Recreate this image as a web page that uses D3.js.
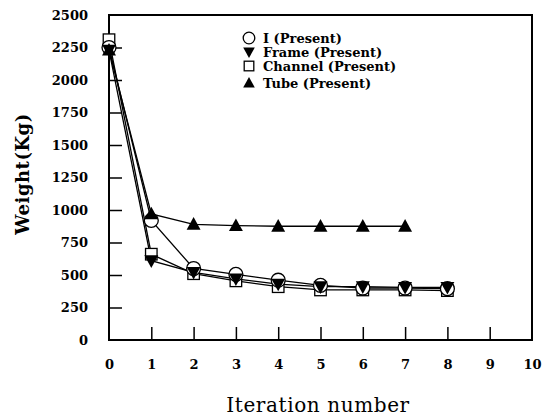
<!DOCTYPE html>
<html>
<head>
<meta charset="utf-8">
<script src="https://cdn.jsdelivr.net/npm/d3@7"></script>
<style>
  body { margin: 0; background: #fff; }
  text { font-family: "DejaVu Serif", "Liberation Serif", serif; fill: #000; }
</style>
</head>
<body>
<svg id="chart" width="542" height="416"></svg>
<script>
// iterations and weights
const iterations = [0, 1, 2, 3, 4, 5, 6, 7, 8];
const iWeight = [2250, 920, 550, 505, 460, 420, 400, 400, 395];
const frameWeight = [2230, 610, 520, 470, 430, 410, 410, 405, 405];
const channelWeight = [2310, 660, 510, 455, 410, 385, 385, 385, 380];
const tubeWeight = [2230, 970, 890, 880, 875, 875, 875, 875];

const xTicks = [0, 1, 2, 3, 4, 5, 6, 7, 8, 9, 10];
const yTicks = [0, 250, 500, 750, 1000, 1250, 1500, 1750, 2000, 2250, 2500];

const series = [
  { name: "I (Present)", values: iWeight, symbol: "circle" },
  { name: "Frame (Present)", values: frameWeight, symbol: "down" },
  { name: "Channel (Present)", values: channelWeight, symbol: "square" },
  { name: "Tube (Present)", values: tubeWeight, symbol: "up" }
];

const svg = d3.select("#chart");

const x = d3.scaleLinear().domain([0, 10]).range([109, 532]);
const y = d3.scaleLinear().domain([0, 2500]).range([340, 15]);

// frame box
svg.append("rect")
  .attr("x", x(0)).attr("y", y(2500))
  .attr("width", x(10) - x(0)).attr("height", y(0) - y(2500))
  .attr("fill", "none").attr("stroke", "#000").attr("stroke-width", 2);

// inward ticks
const xAxis = svg.append("g")
  .attr("transform", `translate(0, ${y(0)})`)
  .call(d3.axisBottom(x).tickValues(xTicks).tickSize(-13).tickPadding(20).tickFormat(d3.format("d")));
xAxis.select(".domain").remove();
xAxis.selectAll("line").attr("stroke-width", 1.5).filter(d => d === 0 || d === 10).remove();
xAxis.selectAll("text").attr("font-size", 13).attr("font-weight", "bold");

const yAxis = svg.append("g")
  .attr("transform", `translate(${x(0)}, 0)`)
  .call(d3.axisLeft(y).tickValues(yTicks).tickSize(-13).tickPadding(21).tickFormat(d3.format("d")));
yAxis.select(".domain").remove();
yAxis.selectAll("line").attr("stroke-width", 1.5).filter(d => d === 0 || d === 2500).remove();
yAxis.selectAll("text").attr("font-size", 13).attr("font-weight", "bold");

// axis titles
svg.append("text")
  .attr("x", 318).attr("y", 412)
  .attr("text-anchor", "middle")
  .attr("font-size", 20)
  .attr("letter-spacing", 0.6)
  .text("Iteration number");

svg.append("text")
  .attr("transform", "translate(29, 174) rotate(-90)")
  .attr("text-anchor", "middle")
  .attr("font-size", 18)
  .attr("font-weight", "bold")
  .attr("letter-spacing", 0.5)
  .text("Weight(Kg)");

const line = d3.line()
  .x((d, i) => x(iterations[i]))
  .y(d => y(d));

const lines = svg.append("g");
lines.selectAll("path")
  .data(series)
  .join("path")
  .attr("d", d => line(d.values))
  .attr("fill", "none")
  .attr("stroke", "#000")
  .attr("stroke-width", 1.3);

function drawSymbol(g, kind, cx, cy, s) {
  if (kind === "circle") {
    g.append("circle").attr("cx", cx).attr("cy", cy).attr("r", s * 0.58)
      .attr("fill", "#fff").attr("stroke", "#000").attr("stroke-width", 1.3);
  } else if (kind === "square") {
    g.append("rect").attr("x", cx - s * 0.48).attr("y", cy - s * 0.48)
      .attr("width", s * 0.96).attr("height", s * 0.96)
      .attr("fill", "#fff").attr("stroke", "#000").attr("stroke-width", 1.3);
  } else if (kind === "down") {
    g.append("path")
      .attr("d", `M${cx - s * 0.58},${cy - s * 0.45}L${cx + s * 0.58},${cy - s * 0.45}L${cx},${cy + s * 0.6}Z`)
      .attr("fill", "#000");
  } else {
    g.append("path")
      .attr("d", `M${cx - s * 0.58},${cy + s * 0.45}L${cx + s * 0.58},${cy + s * 0.45}L${cx},${cy - s * 0.6}Z`)
      .attr("fill", "#000");
  }
}

// markers: squares, circles, then filled triangles on top
const order = [2, 0, 1, 3];
order.forEach(k => {
  const s = series[k];
  const g = svg.append("g");
  s.values.forEach((v, i) => drawSymbol(g, s.symbol, x(iterations[i]), y(v), 12));
});

// legend
const legendY = [38, 52, 66, 83];
const legend = svg.append("g");
series.forEach((s, i) => {
  drawSymbol(legend, s.symbol, 249, legendY[i], 10);
  legend.append("text")
    .attr("x", 263).attr("y", legendY[i] + 4.5)
    .attr("font-size", 13)
    .attr("font-weight", "bold")
    .text(s.name);
});
</script>
</body>
</html>
